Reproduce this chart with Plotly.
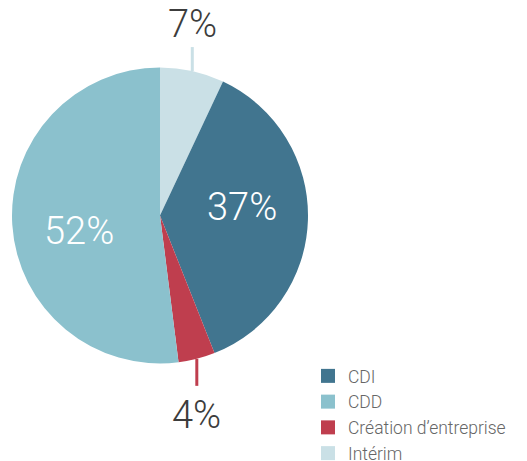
import math
import plotly.graph_objects as go

# ---- data ----
labels = ["Intérim", "CDI", "Création d’entreprise", "CDD"]
values = [7, 37, 4, 52]
colors = ["#cae0e6", "#41758f", "#bf3e4e", "#8bc1cd"]
legend_order = ["CDI", "CDD", "Création d’entreprise", "Intérim"]
inside = [False, True, False, True]

W, H = 527, 461
cx, cy, R = 160, 215.5, 148  # pie placement in pixels
FONT = "Roboto"

fig = go.Figure()
fig.add_trace(go.Pie(
    labels=labels, values=values, sort=False, direction="clockwise", rotation=0,
    marker=dict(colors=colors, line=dict(width=0)),
    textinfo="none",
    showlegend=False, hoverinfo="label+percent",
    domain=dict(x=[(cx - R) / W, (cx + R) / W], y=[1 - (cy + R) / H, 1 - (cy - R) / H]),
))

# legend entries in reference order
for name in legend_order:
    c = colors[labels.index(name)]
    fig.add_trace(go.Scatter(x=[None], y=[None], mode="markers", name=name,
                             marker=dict(symbol="square", size=14, color=c)))

# percentage labels placed from slice mid-angles
total = sum(values)
cum = 0
shapes, annots = [], []
for lab, v, c, ins in zip(labels, values, colors, inside):
    mid = (cum + v / 2) / total * 2 * math.pi
    cum += v
    txt = f"{round(v / total * 100)}%"
    if ins:
        a = mid - math.radians(7.5)
        r = 0.56 * R
        tx, ty = cx + r * math.sin(a), cy - r * math.cos(a)
        annots.append(dict(xref="paper", yref="paper", x=tx / W, y=1 - ty / H,
                           text=txt, showarrow=False, xanchor="center", yanchor="middle",
                           font=dict(family=FONT, size=38, color="white", weight=300)))
        continue
    px = cx + R * math.sin(mid)
    py = cy - R * math.cos(mid)
    up = py < cy
    L = 24 if up else 27
    py2 = py - L if up else py + L
    ty = py2 - 23.5 if up else py2 + 29
    shapes.append(dict(type="line", xref="paper", yref="paper",
                       x0=px / W, x1=px / W, y0=1 - py / H, y1=1 - py2 / H,
                       line=dict(color=c, width=3)))
    annots.append(dict(xref="paper", yref="paper", x=px / W, y=1 - ty / H,
                       text=txt, showarrow=False, xanchor="center", yanchor="middle",
                       font=dict(family=FONT, size=38, color="#3c3c3c", weight=300)))

fig.update_layout(
    width=W, height=H, margin=dict(l=0, r=0, t=0, b=0, autoexpand=False),
    paper_bgcolor="white", plot_bgcolor="white",
    xaxis=dict(visible=False), yaxis=dict(visible=False),
    shapes=shapes, annotations=annots,
    legend=dict(x=308 / W, y=1 - 358 / H, xanchor="left", yanchor="top",
                font=dict(family=FONT, size=17.5, color="#666", weight=300),
                bgcolor="rgba(0,0,0,0)", tracegroupgap=0, itemclick=False),
)

fig.write_html("out.html", config={"displayModeBar": False},
               post_script="document.body.style.margin='0';")
